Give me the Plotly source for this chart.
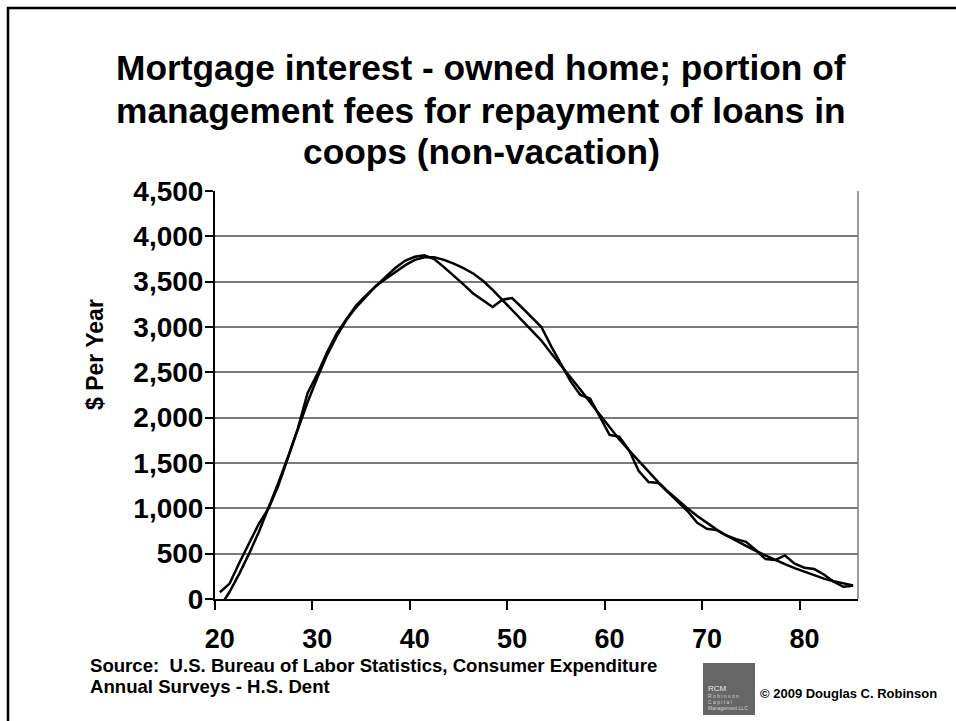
import plotly.graph_objects as go

# ---------------------------------------------------------------------
# Data
# ---------------------------------------------------------------------
ages = list(range(20, 86))

# raw yearly spending ($ per year) - the jagged line
actual = [
    75, 170, 400, 620, 830, 1000, 1250, 1560, 1880, 2270,      # 20-29
    2480, 2720, 2930, 3090, 3240, 3350, 3450, 3550, 3650, 3730,  # 30-39
    3775, 3790, 3750, 3660, 3570, 3470, 3370, 3290, 3220, 3300,  # 40-49
    3320, 3215, 3110, 3000, 2790, 2590, 2400, 2250, 2210, 2010,  # 50-59
    1810, 1790, 1640, 1410, 1290, 1280, 1180, 1070, 970, 840,    # 60-69
    775, 760, 700, 660, 630, 540, 440, 430, 480, 390,            # 70-79
    345, 330, 270, 190, 135, 145,                                # 80-85
]

# smoothed trend - the second line
trend = [
    -90, 80, 280, 500, 740, 1000, 1280, 1570, 1870, 2170,        # 20-29
    2440, 2690, 2900, 3080, 3220, 3340, 3450, 3530, 3610, 3680,  # 30-39
    3740, 3770, 3770, 3740, 3700, 3650, 3590, 3510, 3410, 3300,  # 40-49
    3190, 3075, 2960, 2850, 2710, 2580, 2450, 2310, 2170, 2030,  # 50-59
    1890, 1760, 1640, 1520, 1400, 1290, 1185, 1090, 1000, 915,   # 60-69
    835, 765, 700, 640, 585, 530, 480, 430, 385, 340,            # 70-79
    300, 260, 225, 195, 170, 150,                                # 80-85
]

x_labels = [20, 30, 40, 50, 60, 70, 80]
y_ticks = list(range(0, 4501, 500))

title_lines = [
    "Mortgage interest - owned home; portion of",
    "management fees for repayment of loans in",
    "coops (non-vacation)",
]
source_lines = [
    "Source:  U.S. Bureau of Labor Statistics, Consumer Expenditure",
    "Annual Surveys - H.S. Dent",
]

FONT = "Arial, 'Liberation Sans', sans-serif"

# plot area in pixels
W, H = 956, 721
L, R, T, B = 215, 858, 191, 599


def px(x):
    return (x - L) / (R - L)


def py(y):
    return (B - y) / (B - T)


fig = go.Figure()
fig.add_trace(go.Scatter(x=ages, y=actual, mode="lines",
                         line=dict(color="black", width=2.5), showlegend=False))
fig.add_trace(go.Scatter(x=ages, y=trend, mode="lines",
                         line=dict(color="black", width=2.5), showlegend=False))

fig.update_layout(
    width=W, height=H,
    margin=dict(l=L, r=W - R, t=T, b=H - B, pad=0),
    paper_bgcolor="white", plot_bgcolor="white",
    font=dict(family=FONT, color="black"),
    xaxis=dict(
        range=[19.5, 85.5], tickvals=x_labels, ticks="",
        showgrid=False, zeroline=False,
        showline=True, linecolor="black", linewidth=2,
        tickfont=dict(size=27, weight="bold"),
        ticklabelstandoff=15,
        minor=dict(tick0=19.5, dtick=10, ticks="outside", ticklen=9,
                   tickcolor="black", tickwidth=1.5, showgrid=False),
    ),
    yaxis=dict(
        range=[0, 4500], tickvals=y_ticks, tickformat=",",
        ticks="outside", ticklen=8, tickcolor="black", tickwidth=1.5,
        showgrid=True, gridcolor="#7a7a7a", gridwidth=1.5,
        zeroline=False, showline=True, linecolor="black", linewidth=2,
        tickfont=dict(size=28, weight="bold"),
        ticklabelstandoff=-4,
    ),
)

# right border of the plot area and the slide frame
fig.add_shape(type="line", xref="paper", yref="paper", x0=1, x1=1, y0=0, y1=1,
              line=dict(color="#7a7a7a", width=1.5))
fig.add_shape(type="rect", xref="paper", yref="paper",
              x0=px(8), x1=px(985), y0=py(750), y1=py(8),
              line=dict(color="black", width=2.5))

# title, three centred lines
for i, txt in enumerate(title_lines):
    fig.add_annotation(text=f"<b>{txt}</b>", xref="paper", yref="paper",
                       x=px(481), y=py(68 + 42 * i), showarrow=False,
                       xanchor="center", yanchor="middle",
                       font=dict(size=35.3, family=FONT))

# y axis title
fig.add_annotation(text="<b>$ Per Year</b>", xref="paper", yref="paper",
                   x=px(95), y=py(355), showarrow=False, textangle=-90,
                   xanchor="center", yanchor="middle", font=dict(size=23))

# source note
for i, txt in enumerate(source_lines):
    fig.add_annotation(text=f"<b>{txt}</b>", xref="paper", yref="paper",
                       x=px(88), y=py(665 + 21 * i), showarrow=False,
                       xanchor="left", yanchor="middle", align="left",
                       font=dict(size=18.6))

# logo box
fig.add_shape(type="rect", xref="paper", yref="paper",
              x0=px(703), x1=px(755), y0=py(715), y1=py(663),
              line=dict(width=0), fillcolor="#666666")
fig.add_annotation(text="RCM", xref="paper", yref="paper", x=px(706), y=py(688),
                   showarrow=False, xanchor="left", yanchor="middle",
                   font=dict(size=8, color="#e8e8e8"))
for j, t in enumerate(["R o b i n s o n", "C a p i t a l", "Management LLC"]):
    fig.add_annotation(text=t, xref="paper", yref="paper", x=px(706), y=py(696 + 6 * j),
                       showarrow=False, xanchor="left", yanchor="middle",
                       font=dict(size=5, color="#cfcfcf"))

fig.add_annotation(text="<b>© 2009 Douglas C. Robinson</b>", xref="paper", yref="paper",
                   x=px(758), y=py(693), showarrow=False, xanchor="left", yanchor="middle",
                   font=dict(size=13))

# drop the default page margin so the figure sits at the window's origin
fig.write_html("out.html", config={"displayModeBar": False},
               post_script="document.body.style.margin='0';document.body.style.overflow='hidden';")
